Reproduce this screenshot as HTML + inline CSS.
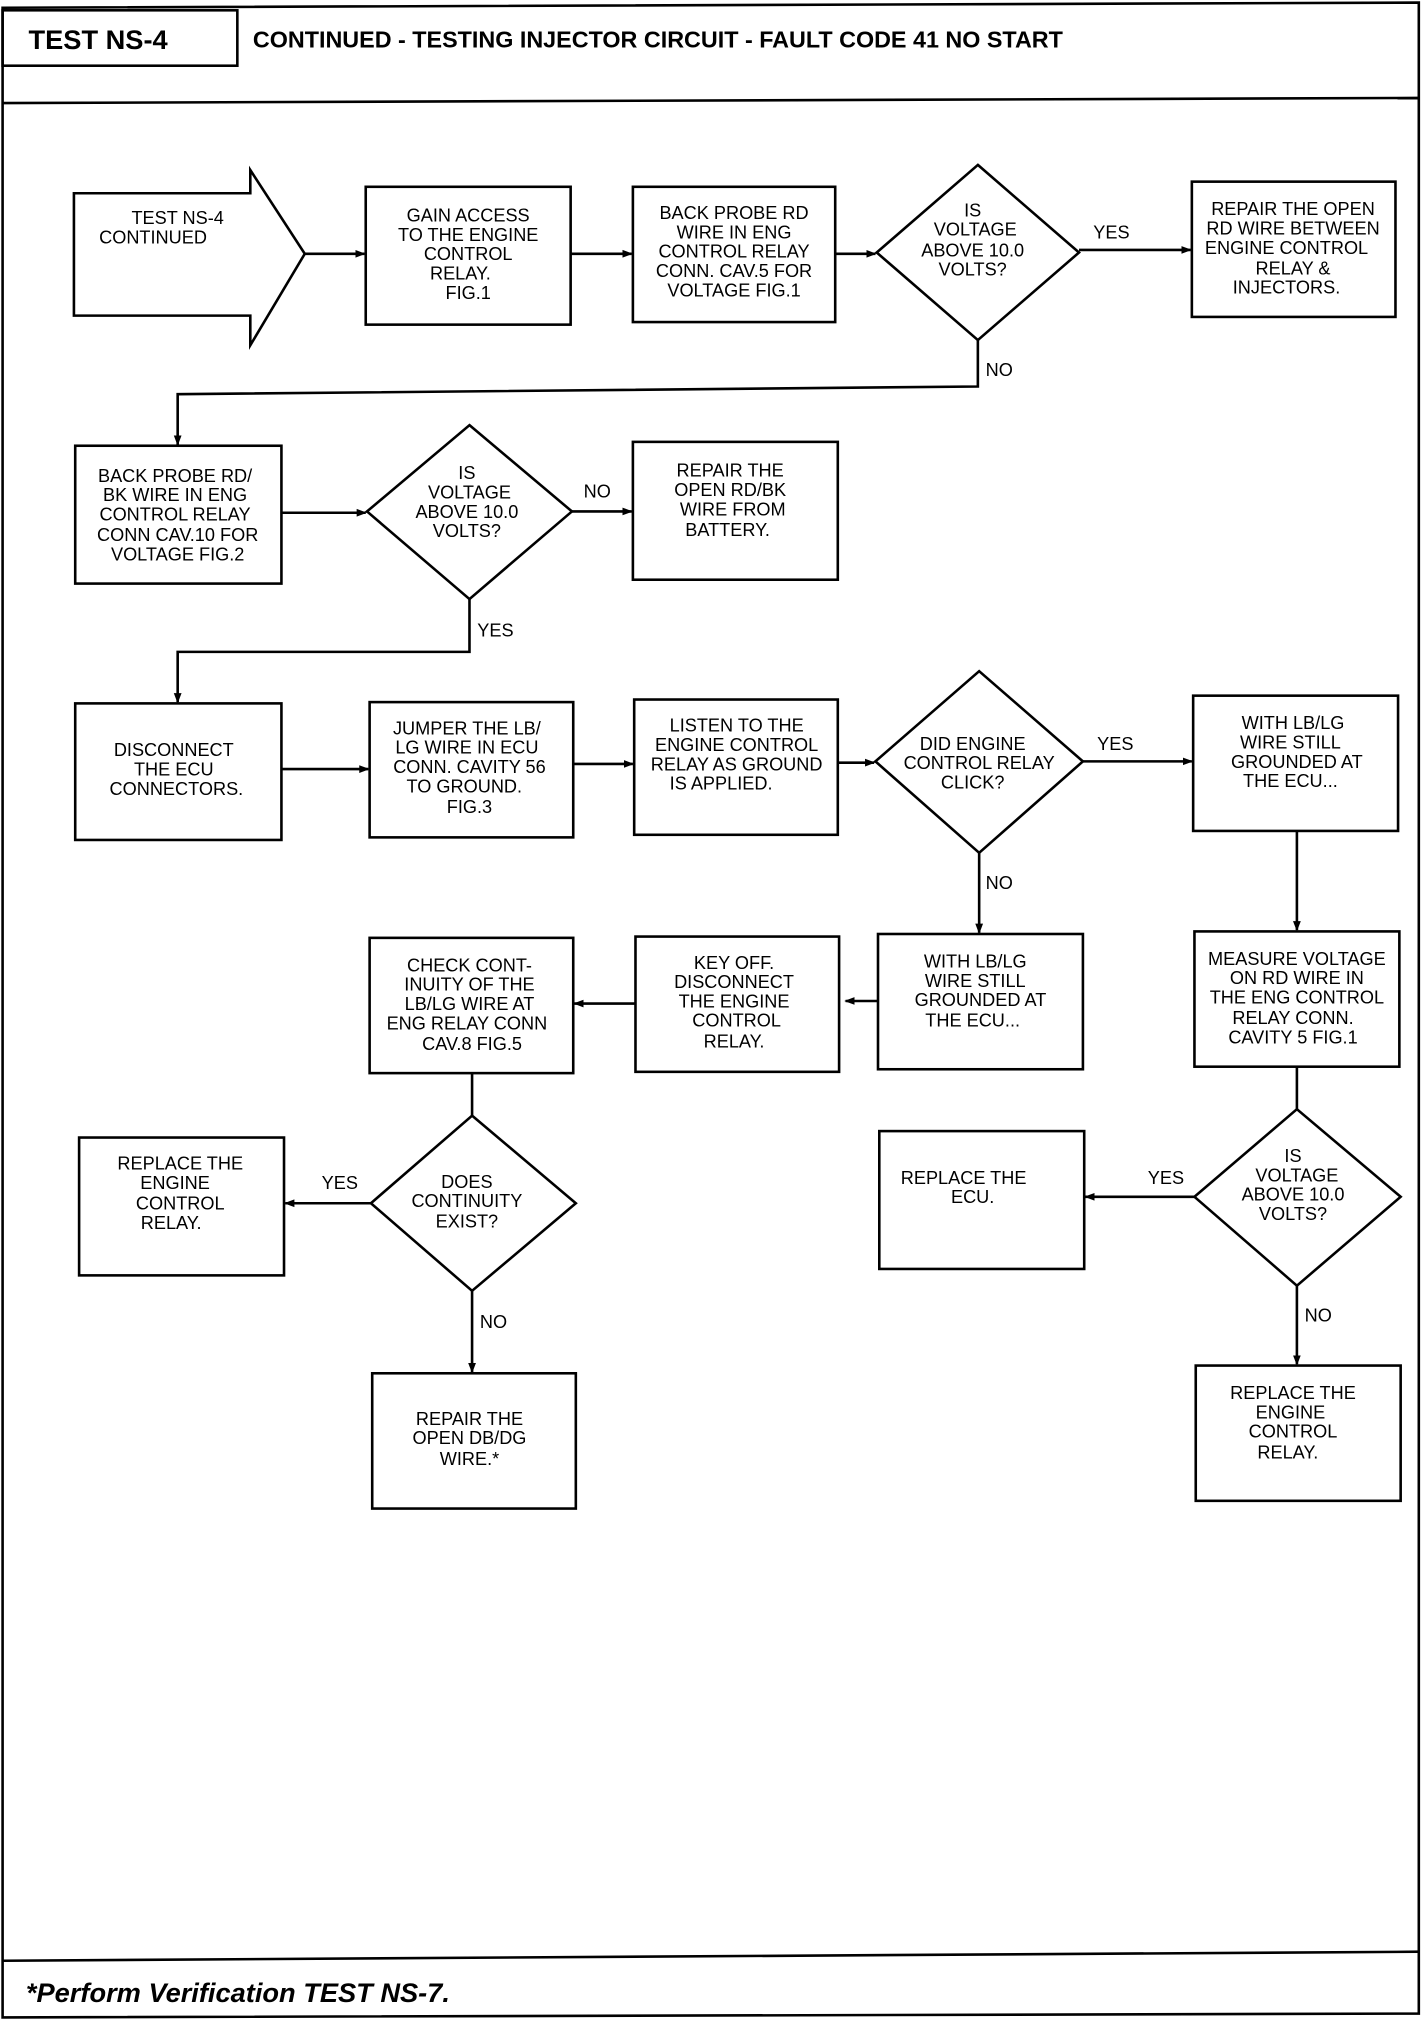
<!DOCTYPE html>
<html><head><meta charset="utf-8"><style>
html,body{margin:0;padding:0;background:#fff;}
svg{display:block;}
text{font-family:"Liberation Sans",sans-serif;fill:#000;}
.t{font-size:14px;text-anchor:middle;font-stretch:condensed;}
.l{font-size:14px;}
</style></head><body>
<svg width="1424" height="2020" viewBox="0 0 1098 1568" preserveAspectRatio="none" xmlns="http://www.w3.org/2000/svg">
<defs><marker id="a" markerWidth="8" markerHeight="8" refX="7" refY="4" orient="auto" markerUnits="userSpaceOnUse"><path d="M0,1 L8,4 L0,7 z" fill="#000"/></marker></defs>
<g fill="none" stroke="#000" stroke-width="2">
<!-- frame -->
<path d="M2,6 L1094,2 L1094,1563 L2,1566 Z"/>
<rect x="2" y="8" width="181" height="43"/>
<line x1="2" y1="80" x2="1094" y2="76"/>
<line x1="2" y1="1522" x2="1094" y2="1515"/>
<!-- row1 -->
<path d="M57,150 L193,150 L193,132 L235,197 L193,268 L193,245 L57,245 Z"/>
<rect x="282" y="145" width="158" height="107"/>
<rect x="488" y="145" width="156" height="105"/>
<path d="M754,128 L832,196 L754,264 L676,196 Z"/>
<rect x="919" y="141" width="157" height="105"/>
<line x1="235" y1="197" x2="281" y2="197" marker-end="url(#a)"/>
<line x1="440" y1="197" x2="487" y2="197" marker-end="url(#a)"/>
<line x1="644" y1="197" x2="675" y2="197" marker-end="url(#a)"/>
<line x1="832" y1="194" x2="918" y2="194" marker-end="url(#a)"/>
<polyline points="754,264 754,300 137,306 137,345" marker-end="url(#a)"/>
<!-- row2 -->
<rect x="58" y="346" width="159" height="107"/>
<path d="M362,330 L441,397 L362,465 L283,397 Z"/>
<rect x="488" y="343" width="158" height="107"/>
<line x1="217" y1="398" x2="282" y2="398" marker-end="url(#a)"/>
<line x1="441" y1="397" x2="487" y2="397" marker-end="url(#a)"/>
<polyline points="362,465 362,506 137,506 137,545" marker-end="url(#a)"/>
<!-- row3 -->
<rect x="58" y="546" width="159" height="106"/>
<rect x="285" y="545" width="157" height="105"/>
<rect x="489" y="543" width="157" height="105"/>
<path d="M755,521 L835,591 L755,662 L675,591 Z"/>
<rect x="920" y="540" width="158" height="105"/>
<line x1="217" y1="597" x2="284" y2="597" marker-end="url(#a)"/>
<line x1="442" y1="593" x2="488" y2="593" marker-end="url(#a)"/>
<line x1="646" y1="592" x2="674" y2="592" marker-end="url(#a)"/>
<line x1="835" y1="591" x2="919" y2="591" marker-end="url(#a)"/>
<line x1="755" y1="662" x2="755" y2="724" marker-end="url(#a)"/>
<line x1="1000" y1="645" x2="1000" y2="722" marker-end="url(#a)"/>
<!-- row4 -->
<rect x="677" y="725" width="158" height="105"/>
<rect x="490" y="727" width="157" height="105"/>
<rect x="285" y="728" width="157" height="105"/>
<rect x="921" y="723" width="158" height="105"/>
<line x1="677" y1="777" x2="652" y2="777" marker-end="url(#a)"/>
<line x1="490" y1="779" x2="443" y2="779" marker-end="url(#a)"/>
<line x1="364" y1="833" x2="364" y2="866"/>
<line x1="1000" y1="828" x2="1000" y2="861"/>
<!-- row5 -->
<path d="M364,866 L444,934 L364,1002 L286,934 Z"/>
<rect x="61" y="883" width="158" height="107"/>
<rect x="287" y="1066" width="157" height="105"/>
<path d="M1000,861 L1080,929 L1000,998 L921,929 Z"/>
<rect x="678" y="878" width="158" height="107"/>
<rect x="922" y="1060" width="158" height="105"/>
<line x1="286" y1="934" x2="220" y2="934" marker-end="url(#a)"/>
<line x1="364" y1="1002" x2="364" y2="1065" marker-end="url(#a)"/>
<line x1="921" y1="929" x2="837" y2="929" marker-end="url(#a)"/>
<line x1="1000" y1="998" x2="1000" y2="1059" marker-end="url(#a)"/>
</g>
<text x="22" y="38" style="font-size:21px;font-weight:bold">TEST NS-4</text>
<text x="195" y="37" style="font-size:18px;font-weight:bold">CONTINUED - TESTING INJECTOR CIRCUIT - FAULT CODE 41 NO START</text>
<text x="20" y="1554" style="font-size:21px;font-weight:bold;font-style:italic">*Perform Verification TEST NS-7.</text>
<g class="t">
<text x="137" y="174">TEST NS-4</text><text x="118" y="189">CONTINUED</text>
<text x="361" y="172">GAIN ACCESS</text><text x="361" y="187">TO THE ENGINE</text><text x="361" y="202">CONTROL</text><text x="355" y="217">RELAY.</text><text x="361" y="232">FIG.1</text>
<text x="566" y="170">BACK PROBE RD</text><text x="566" y="185">WIRE IN ENG</text><text x="566" y="200">CONTROL RELAY</text><text x="566" y="215">CONN. CAV.5 FOR</text><text x="566" y="230">VOLTAGE FIG.1</text>
<text x="750" y="168">IS</text><text x="752" y="183">VOLTAGE</text><text x="750" y="199">ABOVE 10.0</text><text x="750" y="214">VOLTS?</text>
<text x="997" y="167">REPAIR THE OPEN</text><text x="997" y="182">RD WIRE BETWEEN</text><text x="992" y="197">ENGINE CONTROL</text><text x="997" y="213">RELAY &amp;</text><text x="992" y="228">INJECTORS.</text>
<text x="135" y="374">BACK PROBE RD/</text><text x="135" y="389">BK WIRE IN ENG</text><text x="135" y="404">CONTROL RELAY</text><text x="137" y="420">CONN CAV.10 FOR</text><text x="137" y="435">VOLTAGE FIG.2</text>
<text x="360" y="372">IS</text><text x="362" y="387">VOLTAGE</text><text x="360" y="402">ABOVE 10.0</text><text x="360" y="417">VOLTS?</text>
<text x="563" y="370">REPAIR THE</text><text x="563" y="385">OPEN RD/BK</text><text x="565" y="400">WIRE FROM</text><text x="561" y="416">BATTERY.</text>
<text x="134" y="587">DISCONNECT</text><text x="134" y="602">THE ECU</text><text x="136" y="617">CONNECTORS.</text>
<text x="360" y="570">JUMPER THE LB/</text><text x="360" y="585">LG WIRE IN ECU</text><text x="362" y="600">CONN. CAVITY 56</text><text x="358" y="615">TO GROUND.</text><text x="362" y="631">FIG.3</text>
<text x="568" y="568">LISTEN TO THE</text><text x="568" y="583">ENGINE CONTROL</text><text x="568" y="598">RELAY AS GROUND</text><text x="556" y="613">IS APPLIED.</text>
<text x="750" y="582">DID ENGINE</text><text x="755" y="597">CONTROL RELAY</text><text x="750" y="612">CLICK?</text>
<text x="997" y="566">WITH LB/LG</text><text x="995" y="581">WIRE STILL</text><text x="1000" y="596">GROUNDED AT</text><text x="995" y="611">THE ECU...</text>
<text x="752" y="751">WITH LB/LG</text><text x="752" y="766">WIRE STILL</text><text x="756" y="781">GROUNDED AT</text><text x="750" y="797">THE ECU...</text>
<text x="566" y="752">KEY OFF.</text><text x="566" y="767">DISCONNECT</text><text x="566" y="782">THE ENGINE</text><text x="568" y="797">CONTROL</text><text x="566" y="813">RELAY.</text>
<text x="362" y="754">CHECK CONT-</text><text x="362" y="769">INUITY OF THE</text><text x="362" y="784">LB/LG WIRE AT</text><text x="360" y="799">ENG RELAY CONN</text><text x="364" y="815">CAV.8 FIG.5</text>
<text x="1000" y="749">MEASURE VOLTAGE</text><text x="1000" y="764">ON RD WIRE IN</text><text x="1000" y="779">THE ENG CONTROL</text><text x="997" y="795">RELAY CONN.</text><text x="997" y="810">CAVITY 5 FIG.1</text>
<text x="360" y="922">DOES</text><text x="360" y="937">CONTINUITY</text><text x="360" y="953">EXIST?</text>
<text x="139" y="908">REPLACE THE</text><text x="135" y="923">ENGINE</text><text x="139" y="939">CONTROL</text><text x="132" y="954">RELAY.</text>
<text x="362" y="1106">REPAIR THE</text><text x="362" y="1121">OPEN DB/DG</text><text x="362" y="1137">WIRE.*</text>
<text x="997" y="902">IS</text><text x="1000" y="917">VOLTAGE</text><text x="997" y="932">ABOVE 10.0</text><text x="997" y="947">VOLTS?</text>
<text x="743" y="919">REPLACE THE</text><text x="750" y="934">ECU.</text>
<text x="997" y="1086">REPLACE THE</text><text x="995" y="1101">ENGINE</text><text x="997" y="1116">CONTROL</text><text x="993" y="1132">RELAY.</text>
</g>
<g class="l">
<text x="843" y="185">YES</text><text x="760" y="292">NO</text>
<text x="450" y="386">NO</text><text x="368" y="494">YES</text>
<text x="846" y="582">YES</text><text x="760" y="690">NO</text>
<text x="248" y="923">YES</text><text x="370" y="1031">NO</text>
<text x="885" y="919">YES</text><text x="1006" y="1026">NO</text>
</g>
</svg>
</body></html>
